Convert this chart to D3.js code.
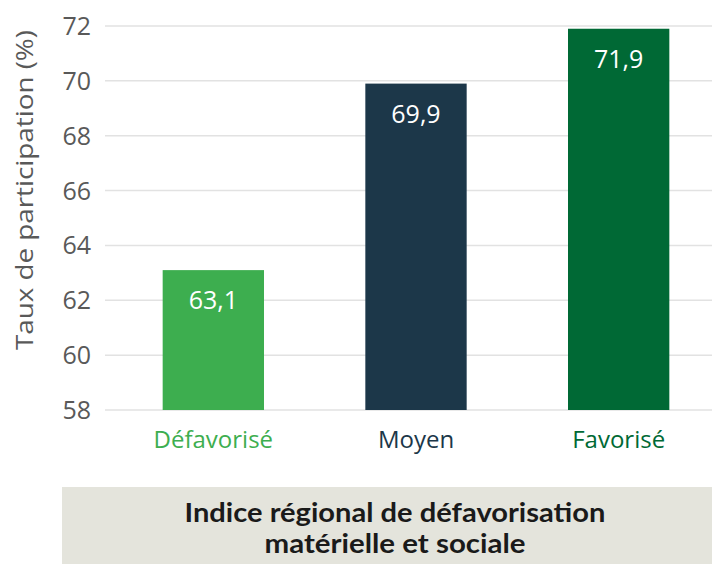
<!DOCTYPE html>
<html>
<head>
<meta charset="utf-8">
<script src="https://cdn.jsdelivr.net/npm/d3@7"></script>
<style>
  body { margin: 0; background: #fff; }
</style>
</head>
<body>
<div id="container"></div>
<script>
const categories = ["Défavorisé", "Moyen", "Favorisé"];
const values = [63.1, 69.9, 71.9];
const barColors = ["#3dae4f", "#1c3749", "#006935"];
const yTicks = [58, 60, 62, 64, 66, 68, 70, 72];
const yLabel = "Taux de participation (%)";
const xTitle = ["Indice régional de défavorisation", "matérielle et sociale"];

const w = 712, h = 564;

let viz = d3.select("#container")
  .append("svg")
    .attr("width", w)
    .attr("height", h)
    .style("background-color", "#fff");

const x = d3.scaleBand()
  .domain(categories)
  .range([112, 720])
  .paddingInner(0.5)
  .paddingOuter(0.25);

const y = d3.scaleLinear()
  .domain([58, 72])
  .range([410, 26]);

// gridlines
viz.append("g")
  .selectAll("line")
  .data(yTicks)
  .enter()
  .append("line")
  .attr("x1", 105)
  .attr("x2", 712)
  .attr("y1", d => y(d))
  .attr("y2", d => y(d))
  .attr("stroke", "#e2e2e2")
  .attr("stroke-width", 1.5);

// tick labels
viz.append("g")
  .selectAll("text")
  .data(yTicks)
  .enter()
  .append("text")
  .attr("x", 91)
  .attr("y", d => y(d))
  .attr("dy", "0.36em")
  .attr("text-anchor", "end")
  .attr("font-family", "Open Sans")
  .attr("font-size", 25)
  .attr("fill", "#595959")
  .text(d => d);

// y label
viz.append("text")
  .attr("transform", "translate(33,190) rotate(-90)")
  .attr("text-anchor", "middle")
  .attr("font-family", "Open Sans")
  .attr("font-size", 24)
  .attr("textLength", 320)
  .attr("lengthAdjust", "spacingAndGlyphs")
  .attr("fill", "#595959")
  .text(yLabel);

// bars
viz.append("g")
  .selectAll("rect")
  .data(values)
  .enter()
  .append("rect")
  .attr("x", (d, i) => x(categories[i]))
  .attr("y", d => y(d))
  .attr("width", x.bandwidth())
  .attr("height", d => y(58) - y(d))
  .attr("fill", (d, i) => barColors[i]);

// value labels
viz.append("g")
  .selectAll("text")
  .data(values)
  .enter()
  .append("text")
  .attr("x", (d, i) => x(categories[i]) + x.bandwidth() / 2)
  .attr("y", d => y(d) + 39)
  .attr("text-anchor", "middle")
  .attr("font-family", "Open Sans")
  .attr("font-size", 25)
  .attr("fill", "#fff")
  .text(d => d3.format(".1f")(d).replace(".", ","));

// category labels
viz.append("g")
  .selectAll("text")
  .data(categories)
  .enter()
  .append("text")
  .attr("x", d => x(d) + x.bandwidth() / 2)
  .attr("y", 448)
  .attr("text-anchor", "middle")
  .attr("font-family", "Open Sans")
  .attr("font-size", 24)
  .attr("fill", (d, i) => barColors[i])
  .text(d => d);

// title box
viz.append("rect")
  .attr("x", 62)
  .attr("y", 487)
  .attr("width", 650)
  .attr("height", 77)
  .attr("fill", "#e4e4dc");

const titleWidths = [421, 261];
viz.append("g")
  .selectAll("text")
  .data(xTitle)
  .enter()
  .append("text")
  .attr("x", 395)
  .attr("y", (d, i) => 522 + i * 31)
  .attr("text-anchor", "middle")
  .attr("font-family", "Lato")
  .attr("font-weight", "bold")
  .attr("font-size", 26)
  .attr("textLength", (d, i) => titleWidths[i])
  .attr("lengthAdjust", "spacingAndGlyphs")
  .attr("fill", "#1a1a1a")
  .text(d => d);
</script>
</body>
</html>
